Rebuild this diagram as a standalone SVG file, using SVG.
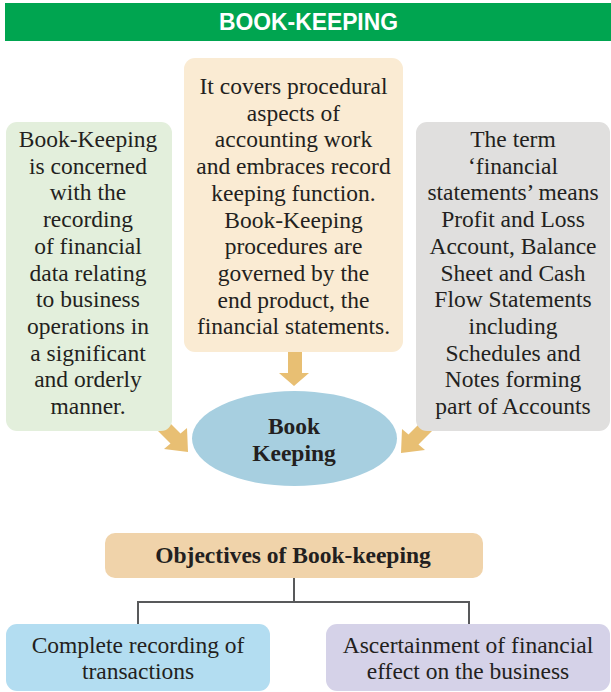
<svg xmlns="http://www.w3.org/2000/svg" width="611" height="692" viewBox="0 0 611 692">
<style>
.t{font-family:"Liberation Serif","Times New Roman",serif;font-size:23.5px;fill:#231F20;text-anchor:middle}
.b{font-weight:bold}
.arrow{fill:#E8BF73}
.line{fill:none;stroke:#58595B;stroke-width:2}
</style>
<rect x="0" y="0" width="611" height="692" fill="#FFFFFF"/>
<g id="title">
<rect x="5" y="3" width="606" height="38" fill="#00A550"/>
<text x="308.5" y="30" font-family="'Liberation Sans',Arial,sans-serif" font-weight="bold" font-size="23.5" fill="#FFFFFF" text-anchor="middle" textLength="179" lengthAdjust="spacingAndGlyphs">BOOK-KEEPING</text>
</g>
<g id="connectors">
<polygon class="arrow" points="288,345 302,345 302,373 309,373 294,386 279,373 288,373"/>
<polygon class="arrow" points="145,418 170.5,443.5 164,449 188,452 187,428 180.5,433.5 155,408"/>
<polygon class="arrow" points="444,419 418.5,444.5 425,450 401,453 402,429 408.5,434.5 434,409"/>
<polyline class="line" points="294,578 294,602"/>
<polyline class="line" points="138,624 138,602 469,602 469,624"/>
</g>
<g id="node-definition">
<rect x="6" y="122" width="166" height="309" rx="11" fill="#E3EFDC"/>
<text class="t" x="88" y="147">Book-Keeping</text>
<text class="t" x="88" y="173.7">is concerned</text>
<text class="t" x="88" y="200.4">with the</text>
<text class="t" x="88" y="227.1">recording</text>
<text class="t" x="88" y="253.8">of financial</text>
<text class="t" x="88" y="280.5">data relating</text>
<text class="t" x="88" y="307.2">to business</text>
<text class="t" x="88" y="333.9">operations in</text>
<text class="t" x="88" y="360.6">a significant</text>
<text class="t" x="88" y="387.3">and orderly</text>
<text class="t" x="88" y="414">manner.</text>
</g>
<g id="node-procedural">
<rect x="184" y="58" width="219" height="294" rx="11" fill="#FAEBD3"/>
<text class="t" x="293.5" y="94">It covers procedural</text>
<text class="t" x="293.5" y="120.7">aspects of</text>
<text class="t" x="293.5" y="147.4">accounting work</text>
<text class="t" x="293.5" y="174.1">and embraces record</text>
<text class="t" x="293.5" y="200.8">keeping function.</text>
<text class="t" x="293.5" y="227.5">Book-Keeping</text>
<text class="t" x="293.5" y="254.2">procedures are</text>
<text class="t" x="293.5" y="280.9">governed by the</text>
<text class="t" x="293.5" y="307.6">end product, the</text>
<text class="t" x="293.5" y="334.3">financial statements.</text>
</g>
<g id="node-statements">
<rect x="416" y="122" width="194" height="309" rx="11" fill="#E0DFDE"/>
<text class="t" x="513" y="147">The term</text>
<text class="t" x="513" y="173.7">‘financial</text>
<text class="t" x="513" y="200.4">statements’ means</text>
<text class="t" x="513" y="227.1">Profit and Loss</text>
<text class="t" x="513" y="253.8">Account, Balance</text>
<text class="t" x="513" y="280.5">Sheet and Cash</text>
<text class="t" x="513" y="307.2">Flow Statements</text>
<text class="t" x="513" y="333.9">including</text>
<text class="t" x="513" y="360.6">Schedules and</text>
<text class="t" x="513" y="387.3">Notes forming</text>
<text class="t" x="513" y="414">part of Accounts</text>
</g>
<g id="node-bookkeeping">
<ellipse cx="294.5" cy="438.5" rx="102.5" ry="47.5" fill="#A7CFE0"/>
<text class="t b" x="294" y="434">Book</text>
<text class="t b" x="294" y="461">Keeping</text>
</g>
<g id="node-objectives">
<rect x="105" y="533" width="378" height="45" rx="10" fill="#F0D3AA"/>
<text class="t b" x="293" y="563">Objectives of Book-keeping</text>
</g>
<g id="node-recording">
<rect x="6" y="624" width="264" height="67" rx="11" fill="#B3DDF1"/>
<text class="t" x="138" y="653">Complete recording of</text>
<text class="t" x="138" y="679">transactions</text>
</g>
<g id="node-effect">
<rect x="326" y="624" width="284" height="67" rx="11" fill="#D5D2E8"/>
<text class="t" x="468" y="653">Ascertainment of financial</text>
<text class="t" x="468" y="679">effect on the business</text>
</g>
</svg>
